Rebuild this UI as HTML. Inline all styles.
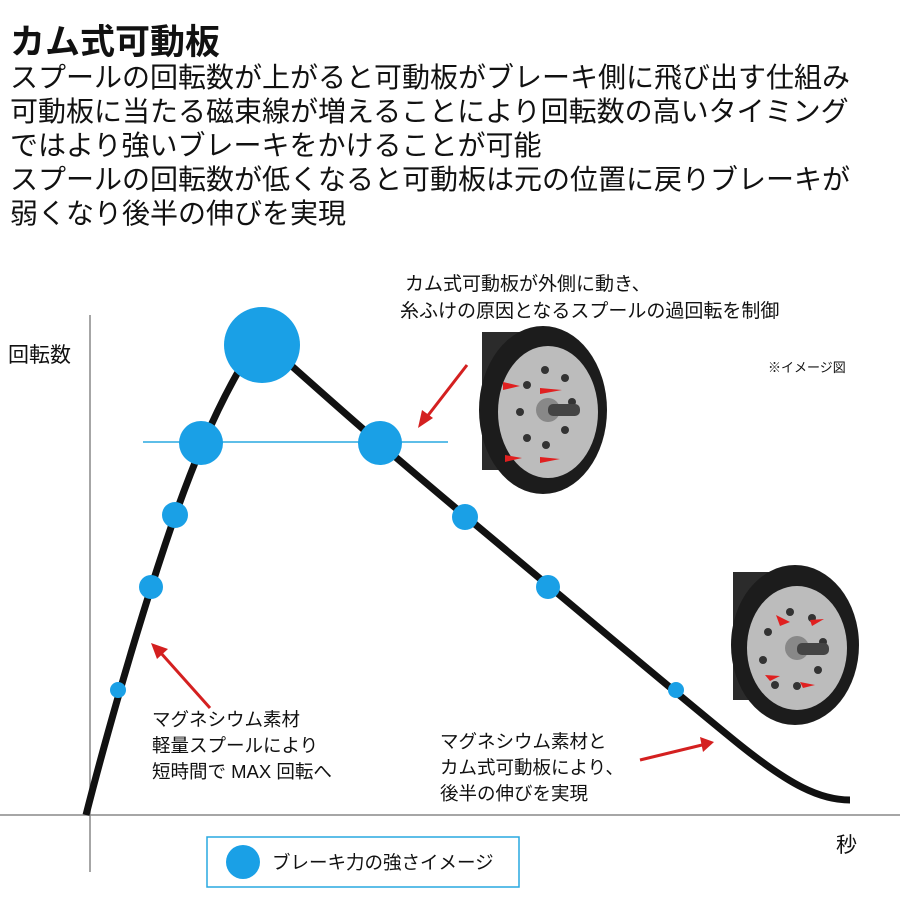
<!DOCTYPE html>
<html><head><meta charset="utf-8"><style>
body{margin:0;background:#fff;width:900px;height:900px;overflow:hidden;font-family:"Liberation Sans","Noto Sans CJK JP",sans-serif}
</style></head><body>
<svg width="900" height="900" viewBox="0 0 900 900" xmlns="http://www.w3.org/2000/svg" font-family="Liberation Sans, Noto Sans CJK JP, sans-serif">
<text x="10" y="54" font-size="35" font-weight="bold" fill="#111">カム式可動板</text>
<g font-size="28" fill="#111">
<text x="10" y="87">スプールの回転数が上がると可動板がブレーキ側に飛び出す仕組み</text>
<text x="10" y="121">可動板に当たる磁束線が増えることにより回転数の高いタイミング</text>
<text x="10" y="155">ではより強いブレーキをかけることが可能</text>
<text x="10" y="189">スプールの回転数が低くなると可動板は元の位置に戻りブレーキが</text>
<text x="10" y="223">弱くなり後半の伸びを実現</text>
</g>
<line x1="90" y1="315" x2="90" y2="872" stroke="#888" stroke-width="1.5"/>
<line x1="0" y1="815" x2="900" y2="815" stroke="#888" stroke-width="1.5"/>
<text x="8" y="362" font-size="21" fill="#111">回転数</text>
<text x="836" y="852" font-size="21" fill="#111">秒</text>
<line x1="143" y1="442" x2="448" y2="442" stroke="#29a8e0" stroke-width="1.5"/>
<path d="M86,815 C100,760 130,650 165,545 C190,470 215,410 245,360" fill="none" stroke="#111" stroke-width="7"/>
<path d="M285,360 C330,400 380,445 470,520 C560,595 660,680 740,745 C790,785 820,800 850,800" fill="none" stroke="#111" stroke-width="7"/>
<g fill="#1aa0e6">
<circle cx="262" cy="345" r="38"/>
<circle cx="201" cy="443" r="22"/>
<circle cx="380" cy="443" r="22"/>
<circle cx="175" cy="515" r="13"/>
<circle cx="151" cy="587" r="12"/>
<circle cx="118" cy="690" r="8"/>
<circle cx="465" cy="517" r="13"/>
<circle cx="548" cy="587" r="12"/>
<circle cx="676" cy="690" r="8"/>
</g>
<text x="405" y="290" font-size="19" fill="#111">カム式可動板が外側に動き、</text>
<text x="400" y="317" font-size="19" fill="#111">糸ふけの原因となるスプールの過回転を制御</text>
<text x="768" y="372" font-size="13" fill="#111">※イメージ図</text>
<g font-size="18.5" fill="#111">
<text x="152" y="726">マグネシウム素材</text>
<text x="152" y="752">軽量スプールにより</text>
<text x="152" y="778">短時間で MAX 回転へ</text>
<text x="440" y="748">マグネシウム素材と</text>
<text x="440" y="774">カム式可動板により、</text>
<text x="440" y="800">後半の伸びを実現</text>
</g>
<g stroke="#d42020" stroke-width="3" fill="#d42020">
<line x1="467" y1="365" x2="426" y2="418"/><polygon points="418,428 422,410 433,418" stroke="none"/>
<line x1="210" y1="708" x2="160" y2="652"/><polygon points="151,643 168,649 157,659" stroke="none"/>
<line x1="640" y1="760" x2="702" y2="745"/><polygon points="714,742 700,737 703,752" stroke="none"/>
</g>
<g>
<path d="M482,332 L525,332 L540,350 L540,470 L482,470 Z" fill="#2b2b2b"/>
<ellipse cx="543" cy="410" rx="64" ry="84" fill="#1c1c1c"/>
<ellipse cx="548" cy="412" rx="50" ry="66" fill="#bcbcbc"/>
<g fill="#333"><circle cx="545" cy="370" r="4"/><circle cx="565" cy="378" r="4"/><circle cx="520" cy="412" r="4"/><circle cx="572" cy="402" r="4"/><circle cx="527" cy="438" r="4"/><circle cx="565" cy="430" r="4"/><circle cx="546" cy="445" r="4"/><circle cx="527" cy="385" r="4"/></g>
<circle cx="548" cy="410" r="12" fill="#888"/><rect x="548" y="404" width="32" height="12" rx="5" fill="#444"/>
<g fill="#e02020"><polygon points="503,382 520,386 503,390"/><polygon points="540,388 562,390 540,394"/><polygon points="505,455 522,458 505,462"/><polygon points="540,457 560,459 540,463"/></g>
</g>
<g>
<path d="M733,572 L770,572 L785,590 L785,700 L733,700 Z" fill="#2b2b2b"/>
<ellipse cx="795" cy="645" rx="64" ry="80" fill="#1c1c1c"/>
<ellipse cx="797" cy="648" rx="50" ry="62" fill="#bcbcbc"/>
<g fill="#333"><circle cx="790" cy="612" r="4"/><circle cx="812" cy="618" r="4"/><circle cx="768" cy="632" r="4"/><circle cx="823" cy="642" r="4"/><circle cx="763" cy="660" r="4"/><circle cx="818" cy="670" r="4"/><circle cx="775" cy="685" r="4"/><circle cx="797" cy="686" r="4"/></g>
<circle cx="797" cy="648" r="12" fill="#888"/><rect x="797" y="643" width="32" height="12" rx="5" fill="#444"/>
<g fill="#e02020"><polygon points="776,615 790,622 780,626"/><polygon points="810,620 824,619 812,626"/><polygon points="765,675 780,676 770,681"/><polygon points="800,682 815,685 803,688"/></g>
</g>
<rect x="207" y="837" width="312" height="50" fill="#fff" stroke="#29a8e0" stroke-width="1.5"/>
<circle cx="243" cy="862" r="17" fill="#1aa0e6"/>
<text x="272" y="869" font-size="18.5" fill="#111">ブレーキ力の強さイメージ</text>
</svg>
</body></html>
